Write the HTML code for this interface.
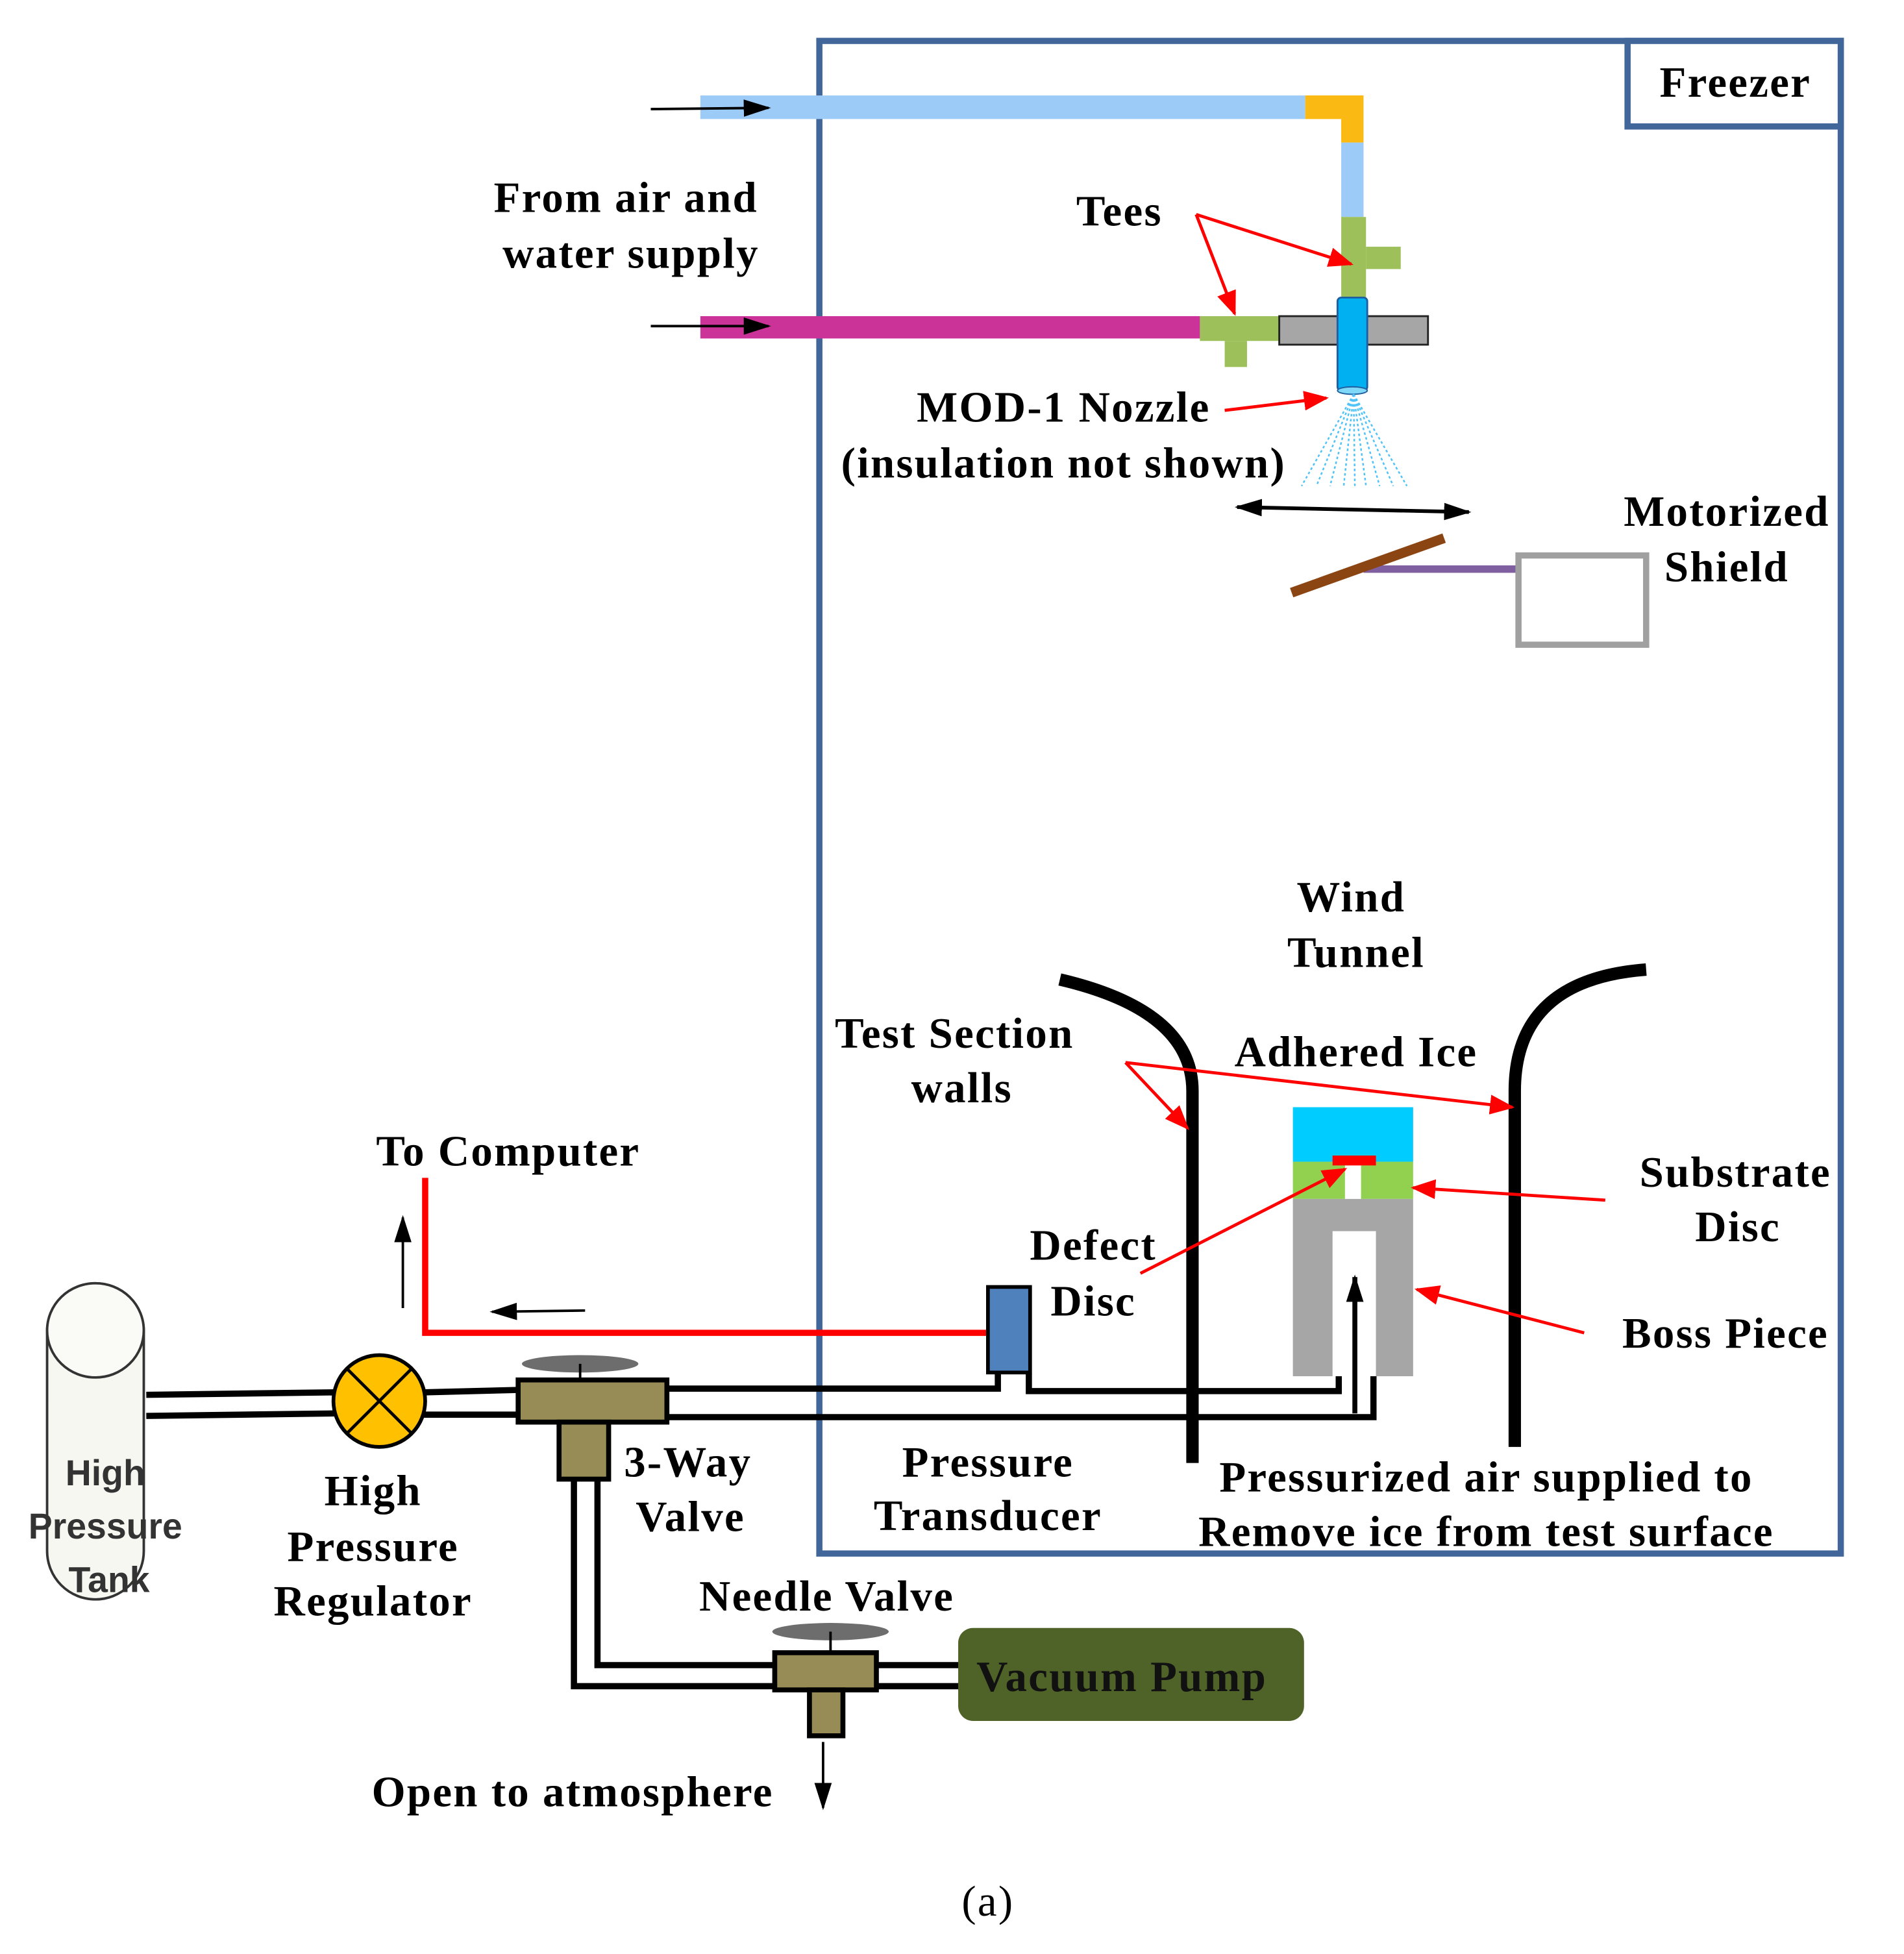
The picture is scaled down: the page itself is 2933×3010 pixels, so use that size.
<!DOCTYPE html>
<html><head><meta charset="utf-8"><style>
html,body{margin:0;padding:0;background:#fff;}
svg{display:block;}
text{font-family:"Liberation Serif",serif;font-weight:bold;font-size:35px;letter-spacing:1.2px;fill:#000;text-anchor:middle;}
</style></head><body>
<svg width="2933" height="3010" viewBox="0 0 1536 1576" preserveAspectRatio="none" xmlns="http://www.w3.org/2000/svg">
<defs>
<marker id="akb" markerWidth="22" markerHeight="14" refX="20" refY="7" orient="auto-start-reverse" markerUnits="userSpaceOnUse"><path d="M0,0 L22,7 L0,14z" fill="#000"/></marker>
<marker id="ar" markerWidth="20" markerHeight="16" refX="18" refY="8" orient="auto" markerUnits="userSpaceOnUse"><path d="M0,0 L20,8 L0,16z" fill="#f00"/></marker>
</defs>
<rect width="1536" height="1576" fill="#fff"/>
<rect x="661" y="33" width="824" height="1220" fill="none" stroke="#41679a" stroke-width="5"/>
<rect x="1313" y="33" width="172" height="69" fill="#fff" stroke="#41679a" stroke-width="5"/>
<text x="1400" y="78">Freezer</text>
<rect x="565" y="77" width="488" height="19" fill="#9dcbf7"/>
<path d="M1053,77 H1100 V115 H1082 V96 H1053z" fill="#fbb913"/>
<rect x="1082" y="115" width="18" height="60" fill="#9dcbf7"/>
<rect x="1082" y="175" width="20" height="65" fill="#9dc05a"/>
<rect x="1102" y="199" width="28" height="18" fill="#9dc05a"/>
<rect x="565" y="255" width="403" height="18" fill="#cc3399"/>
<rect x="968" y="255" width="64" height="20" fill="#9dc05a"/>
<rect x="988" y="275" width="18" height="21" fill="#9dc05a"/>
<rect x="1032" y="255" width="120" height="23" fill="#a6a6a6" stroke="#222" stroke-width="1.5"/>
<rect x="1079" y="240" width="24" height="75" rx="3" fill="#00b0f0" stroke="#1f5fa0" stroke-width="1.5"/>
<ellipse cx="1091" cy="315" rx="12" ry="3" fill="#7fd8f8" stroke="#1f5fa0"/>
<g stroke="#4fc3f7" stroke-width="1.3" stroke-dasharray="2,2">
<line x1="1092" y1="318" x2="1050" y2="392"/><line x1="1092" y1="318" x2="1062" y2="392"/><line x1="1092" y1="318" x2="1073" y2="392"/><line x1="1092" y1="318" x2="1084" y2="392"/><line x1="1092" y1="318" x2="1093" y2="392"/><line x1="1092" y1="318" x2="1102" y2="392"/><line x1="1092" y1="318" x2="1113" y2="392"/><line x1="1092" y1="318" x2="1124" y2="392"/><line x1="1092" y1="318" x2="1135" y2="392"/>
</g>
<line x1="525" y1="88" x2="620" y2="87" stroke="#000" stroke-width="2" marker-end="url(#akb)"/>
<line x1="525" y1="263" x2="620" y2="263" stroke="#000" stroke-width="2" marker-end="url(#akb)"/>
<text x="505" y="171">From air and</text>
<text x="509" y="216">water supply</text>
<text x="903" y="182">Tees</text>
<g stroke="#f00" stroke-width="2.5">
<line x1="965" y1="173" x2="1090" y2="213" marker-end="url(#ar)"/>
<line x1="965" y1="173" x2="996" y2="253" marker-end="url(#ar)"/>
<line x1="988" y1="331" x2="1070" y2="321" marker-end="url(#ar)"/>
</g>
<text x="858" y="340">MOD-1 Nozzle</text>
<text x="858" y="385">(insulation not shown)</text>
<line x1="998" y1="409" x2="1185" y2="413" stroke="#000" stroke-width="3" marker-start="url(#akb)" marker-end="url(#akb)"/>
<rect x="1100" y="456" width="125" height="6" fill="#7f5fa0"/>
<line x1="1042" y1="478" x2="1165" y2="434" stroke="#8b4513" stroke-width="8"/>
<rect x="1225" y="448" width="103" height="72" fill="#fff" stroke="#a0a0a0" stroke-width="5"/>
<text x="1393" y="424">Motorized</text>
<text x="1393" y="469">Shield</text>
<text x="1090" y="735">Wind</text>
<text x="1094" y="780">Tunnel</text>
<path d="M855,790 Q962,815 962,880 V1180" fill="none" stroke="#000" stroke-width="10"/>
<path d="M1328,782 Q1222,790 1222,880 V1167" fill="none" stroke="#000" stroke-width="10"/>
<text x="770" y="845">Test Section</text>
<text x="776" y="889">walls</text>
<text x="1094" y="860">Adhered Ice</text>
<g stroke="#f00" stroke-width="2.5">
<line x1="908" y1="857" x2="958" y2="910" marker-end="url(#ar)"/>
<line x1="908" y1="857" x2="1220" y2="893" marker-end="url(#ar)"/>
</g>
<rect x="1043" y="893" width="97" height="44" fill="#00ccff"/>
<rect x="1043" y="937" width="42" height="30" fill="#92d050"/>
<rect x="1098" y="937" width="42" height="30" fill="#92d050"/>
<rect x="1075" y="932" width="35" height="8" fill="#f00"/>
<path d="M1043,967 H1140 V1110 H1110 V993 H1075 V1110 H1043z" fill="#a6a6a6"/>
<line x1="1093" y1="1140" x2="1093" y2="1030" stroke="#000" stroke-width="4" marker-end="url(#akb)"/>
<text x="1400" y="957">Substrate</text>
<text x="1402" y="1001">Disc</text>
<text x="1392" y="1087">Boss Piece</text>
<text x="882" y="1016">Defect</text>
<text x="882" y="1061">Disc</text>
<g stroke="#f00" stroke-width="2.5">
<line x1="1295" y1="968" x2="1140" y2="958" marker-end="url(#ar)"/>
<line x1="1278" y1="1075" x2="1143" y2="1040" marker-end="url(#ar)"/>
<line x1="920" y1="1027" x2="1085" y2="943" marker-end="url(#ar)"/>
</g>
<path d="M343,950 V1075 H797" fill="none" stroke="#f00" stroke-width="5"/>
<text x="410" y="940">To Computer</text>
<line x1="325" y1="1055" x2="325" y2="982" stroke="#000" stroke-width="2" marker-end="url(#akb)"/>
<line x1="472" y1="1057" x2="397" y2="1058" stroke="#000" stroke-width="2" marker-end="url(#akb)"/>
<g stroke="#000" stroke-width="5" fill="none">
<line x1="118" y1="1125" x2="270" y2="1123"/><line x1="118" y1="1142" x2="270" y2="1140"/>
<line x1="342" y1="1123" x2="420" y2="1121"/><line x1="342" y1="1141" x2="420" y2="1141"/>
<path d="M538,1120 H805 V1108"/><path d="M830,1108 V1122 H1080 V1110"/>
<path d="M538,1143 H1108 V1110"/>
<path d="M482,1193 V1343 H625"/><path d="M463,1193 V1360 H625"/>
<line x1="707" y1="1343" x2="775" y2="1343"/><line x1="707" y1="1360" x2="775" y2="1360"/>
</g>
<rect x="797" y="1038" width="34" height="69" fill="#4f81bd" stroke="#000" stroke-width="3"/>
<circle cx="306" cy="1130" r="37" fill="#ffc000" stroke="#000" stroke-width="3"/>
<line x1="280" y1="1104" x2="332" y2="1156" stroke="#000" stroke-width="2.5"/>
<line x1="332" y1="1104" x2="280" y2="1156" stroke="#000" stroke-width="2.5"/>
<ellipse cx="468" cy="1100" rx="47" ry="7" fill="#6d6d6d"/>
<line x1="468" y1="1100" x2="468" y2="1113" stroke="#000" stroke-width="2"/>
<rect x="418" y="1113" width="120" height="34" fill="#978c55" stroke="#000" stroke-width="4"/>
<rect x="451" y="1147" width="40" height="46" fill="#978c55" stroke="#000" stroke-width="4"/>
<ellipse cx="670" cy="1316" rx="47" ry="7" fill="#6d6d6d"/>
<line x1="670" y1="1316" x2="670" y2="1333" stroke="#000" stroke-width="2"/>
<rect x="625" y="1333" width="82" height="30" fill="#978c55" stroke="#000" stroke-width="4"/>
<rect x="653" y="1363" width="27" height="37" fill="#978c55" stroke="#000" stroke-width="4"/>
<rect x="773" y="1313" width="279" height="75" rx="12" fill="#4f6228"/>
<text x="905" y="1364" style="fill:#111">Vacuum Pump</text>
<line x1="664" y1="1405" x2="664" y2="1458" stroke="#000" stroke-width="2" marker-end="url(#akb)"/>
<text x="462" y="1457">Open to atmosphere</text>
<text x="667" y="1299">Needle Valve</text>
<rect x="38" y="1035" width="78" height="255" rx="39" fill="#f7f7f2" stroke="#333" stroke-width="2"/>
<ellipse cx="77" cy="1073" rx="39" ry="38" fill="#fafaf7" stroke="#333" stroke-width="2"/>
<text x="85" y="1198" style="font-family:'Liberation Sans',sans-serif;fill:#333;font-size:29px;letter-spacing:0">High</text>
<text x="85" y="1241" style="font-family:'Liberation Sans',sans-serif;fill:#333;font-size:29px;letter-spacing:0">Pressure</text>
<text x="88" y="1284" style="font-family:'Liberation Sans',sans-serif;fill:#333;font-size:29px;letter-spacing:0">Tank</text>
<text x="301" y="1214">High</text>
<text x="301" y="1259">Pressure</text>
<text x="301" y="1303">Regulator</text>
<text x="555" y="1191">3-Way</text>
<text x="557" y="1235">Valve</text>
<text x="797" y="1191">Pressure</text>
<text x="797" y="1234">Transducer</text>
<text x="1199" y="1203">Pressurized air supplied to</text>
<text x="1199" y="1247">Remove ice from test surface</text>
<text x="797" y="1545" style="font-weight:normal">(a)</text>
</svg>
</body></html>
